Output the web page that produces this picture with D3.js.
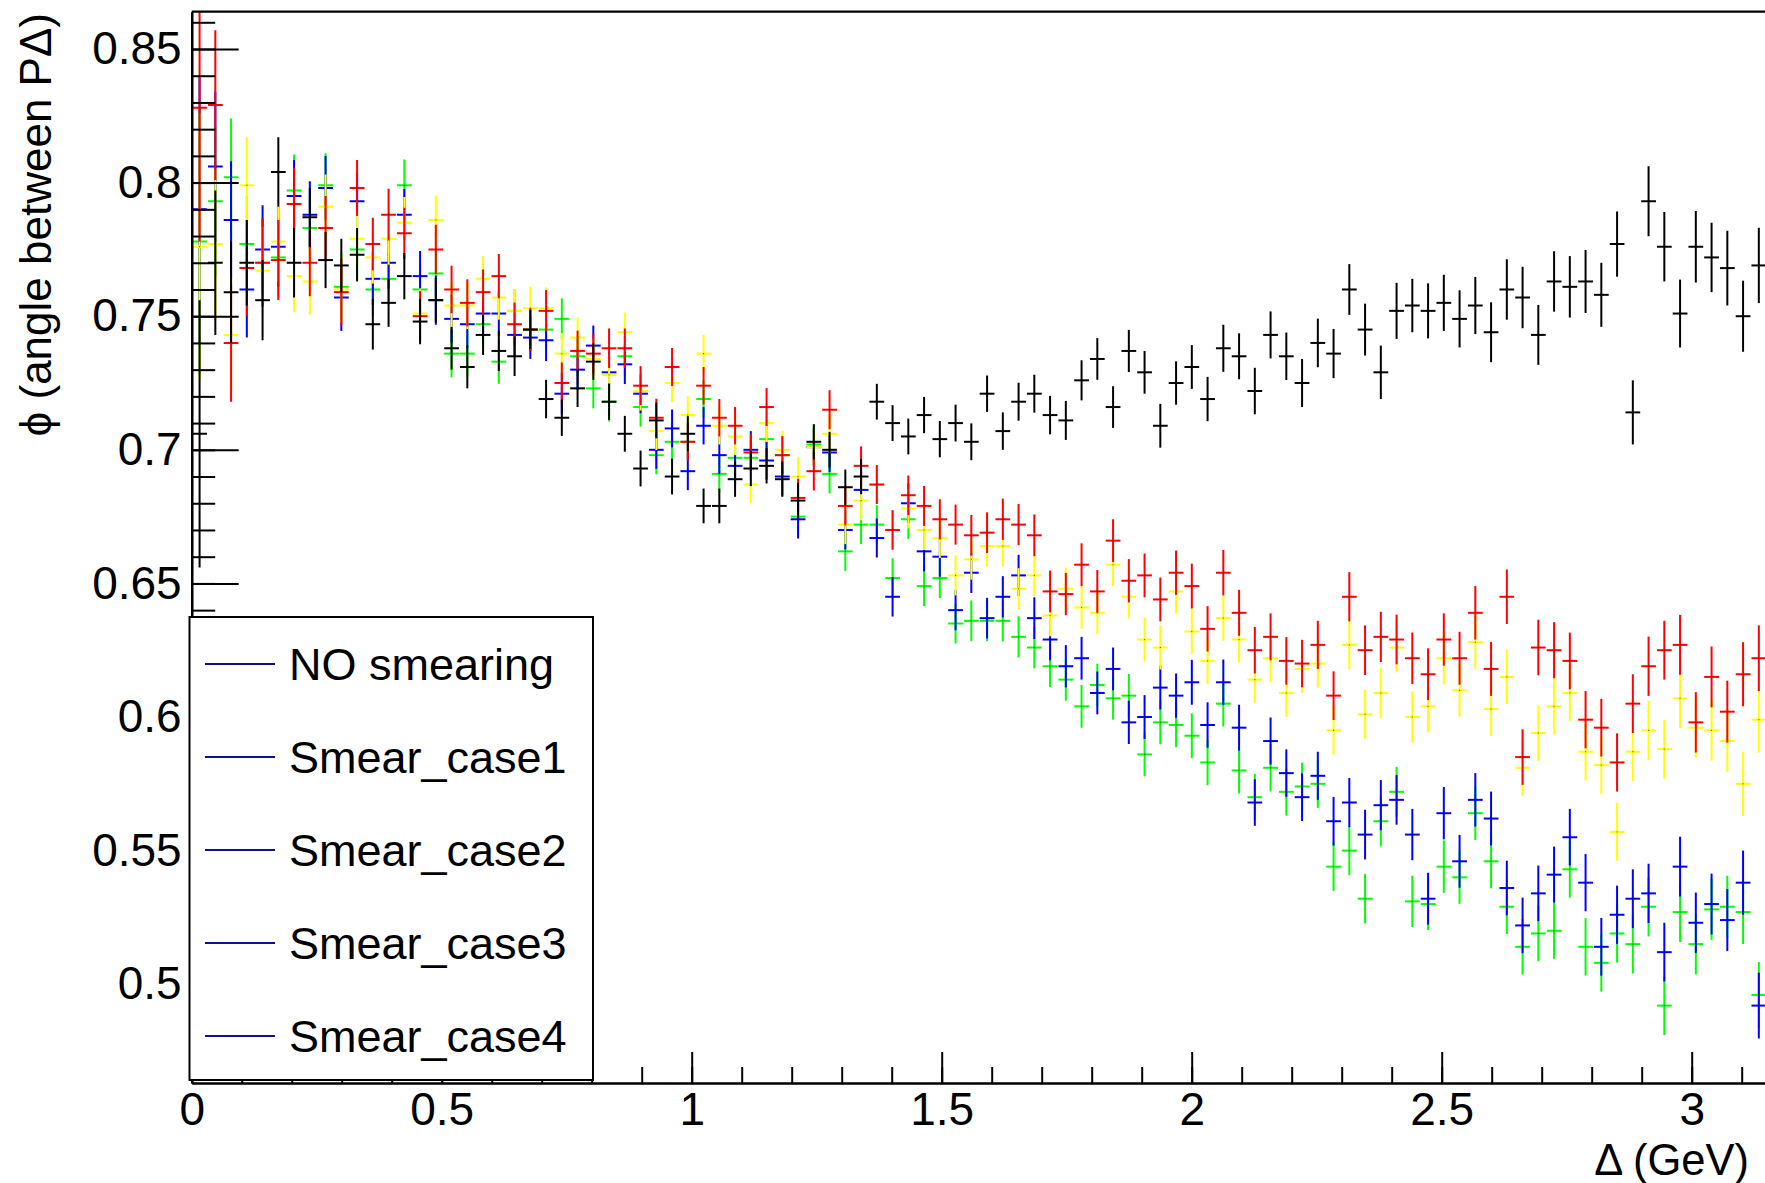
<!DOCTYPE html>
<html>
<head>
<meta charset="utf-8">
<script src="https://cdn.jsdelivr.net/npm/d3@7"></script>
<style>
  html, body { margin: 0; padding: 0; background: #fff; }
  svg { display: block; }
  text { font-family: "Liberation Sans", Arial, Helvetica, sans-serif; fill: #000; }
</style>
</head>
<body>
<svg id="chart" width="1765" height="1183"></svg>
<script>
// Histogram binning: 100 bins on [0, 3.15] GeV
const binMin = 0, binMax = 3.15, nBins = 100;

// Bin contents (mean phi per bin) for each sample
const blackVals = [0.706,0.770,0.759,0.770,0.756,0.804,0.770,0.787,0.771,0.769,
0.773,0.747,0.755,0.765,0.748,0.756,0.738,0.731,0.743,0.737,
0.735,0.745,0.719,0.712,0.723,0.733,0.718,0.706,0.693,0.711,
0.690,0.706,0.679,0.679,0.689,0.693,0.694,0.689,0.681,0.703,
0.700,0.686,0.690,0.718,0.710,0.705,0.713,0.704,0.710,0.703,
0.721,0.707,0.718,0.721,0.713,0.711,0.726,0.734,0.716,0.737,
0.729,0.709,0.725,0.731,0.719,0.738,0.735,0.722,0.743,0.735,
0.725,0.740,0.736,0.760,0.745,0.729,0.752,0.754,0.752,0.755,
0.749,0.754,0.744,0.760,0.757,0.743,0.763,0.761,0.763,0.758,
0.777,0.714,0.793,0.776,0.751,0.776,0.772,0.768,0.750,0.769];

const redVals = [0.828,0.829,0.740,0.768,0.770,0.771,0.792,0.770,0.783,0.759,
0.798,0.777,0.788,0.781,0.750,0.775,0.760,0.755,0.759,0.765,
0.747,0.745,0.752,0.725,0.737,0.736,0.738,0.738,0.724,0.712,
0.731,0.703,0.724,0.712,0.709,0.699,0.716,0.698,0.682,0.692,
0.715,0.679,0.694,0.687,0.670,0.683,0.679,0.674,0.672,0.668,
0.669,0.674,0.672,0.668,0.647,0.646,0.657,0.647,0.666,0.651,
0.653,0.644,0.654,0.649,0.633,0.654,0.639,0.625,0.630,0.621,
0.620,0.627,0.608,0.645,0.625,0.630,0.629,0.622,0.616,0.629,
0.622,0.639,0.618,0.645,0.585,0.626,0.625,0.621,0.599,0.596,
0.583,0.605,0.619,0.625,0.627,0.598,0.615,0.602,0.616,0.622];

const yellowVals = [0.776,0.777,0.743,0.799,0.767,0.778,0.765,0.763,0.791,0.760,
0.779,0.772,0.779,0.785,0.751,0.786,0.754,0.754,0.764,0.757,
0.752,0.753,0.753,0.736,0.742,0.734,0.728,0.744,0.722,0.707,
0.725,0.713,0.736,0.709,0.705,0.687,0.710,0.700,0.690,0.701,
0.706,0.672,0.681,0.687,0.670,0.678,0.670,0.667,0.653,0.659,
0.664,0.664,0.648,0.653,0.638,0.648,0.641,0.639,0.657,0.645,
0.629,0.626,0.647,0.632,0.621,0.637,0.629,0.614,0.622,0.609,
0.618,0.620,0.595,0.627,0.601,0.609,0.626,0.600,0.604,0.622,
0.610,0.628,0.603,0.615,0.581,0.594,0.604,0.609,0.587,0.582,
0.557,0.587,0.595,0.588,0.607,0.596,0.595,0.591,0.575,0.599];

const greenVals = [0.778,0.793,0.802,0.777,0.770,0.772,0.797,0.783,0.799,0.761,
0.775,0.760,0.764,0.799,0.760,0.766,0.736,0.736,0.747,0.733,
0.752,0.745,0.745,0.749,0.735,0.723,0.718,0.735,0.716,0.698,
0.703,0.703,0.719,0.691,0.697,0.697,0.704,0.698,0.675,0.702,
0.691,0.662,0.672,0.672,0.652,0.674,0.649,0.652,0.635,0.636,
0.636,0.636,0.630,0.626,0.619,0.614,0.604,0.612,0.607,0.608,
0.586,0.598,0.597,0.593,0.583,0.605,0.580,0.570,0.581,0.572,
0.574,0.575,0.544,0.550,0.532,0.561,0.572,0.531,0.530,0.544,
0.540,0.564,0.546,0.529,0.514,0.519,0.520,0.543,0.514,0.508,
0.519,0.515,0.529,0.492,0.527,0.515,0.528,0.529,0.527,0.496];

const blueVals = [0.790,0.806,0.786,0.760,0.775,0.776,0.795,0.788,0.798,0.757,
0.793,0.764,0.770,0.788,0.765,0.756,0.749,0.747,0.751,0.751,
0.743,0.742,0.741,0.721,0.730,0.739,0.729,0.732,0.721,0.700,
0.708,0.692,0.709,0.698,0.694,0.700,0.696,0.690,0.674,0.701,
0.699,0.670,0.685,0.667,0.645,0.680,0.662,0.660,0.640,0.654,
0.637,0.645,0.653,0.637,0.629,0.619,0.622,0.609,0.618,0.598,
0.600,0.611,0.608,0.613,0.597,0.613,0.596,0.568,0.591,0.579,
0.570,0.578,0.561,0.568,0.556,0.567,0.569,0.556,0.532,0.564,
0.546,0.569,0.562,0.536,0.522,0.534,0.541,0.555,0.538,0.514,
0.526,0.532,0.534,0.512,0.544,0.523,0.530,0.524,0.538,0.492];

// Statistical errors per bin
const blackErr = [0.050,0.027,0.019,0.016,0.015,0.013,0.013,0.011,0.0105,0.010,
0.010,0.0095,0.009,0.0087,0.0085,0.0083,0.008,0.008,0.0075,0.0075,
0.0074,0.0073,0.0072,0.0068,0.0070,0.0068,0.0068,0.0067,0.0067,0.0067,
0.0067,0.0066,0.0065,0.0065,0.0066,0.0066,0.0066,0.0066,0.0066,0.0066,
0.0067,0.0066,0.0066,0.0067,0.0067,0.0067,0.0068,0.0068,0.0069,0.0069,
0.0068,0.0070,0.0071,0.0071,0.0072,0.0073,0.0075,0.0078,0.0078,0.0079,
0.0080,0.0082,0.0081,0.0082,0.0083,0.0088,0.0086,0.0087,0.0088,0.0089,
0.0090,0.0091,0.0092,0.0095,0.0097,0.0100,0.0105,0.0100,0.0103,0.0105,
0.0107,0.0107,0.0112,0.0113,0.0115,0.0112,0.0113,0.0115,0.0118,0.0120,
0.0122,0.0120,0.0131,0.0130,0.0127,0.0134,0.0130,0.0140,0.0133,0.0141];

const smearErr = [0.050,0.028,0.022,0.018,0.0165,0.015,0.0135,0.0125,0.012,0.0125,
0.0105,0.0098,0.0097,0.0096,0.0094,0.0092,0.0089,0.0088,0.0085,0.0083,
0.0081,0.0080,0.0078,0.0077,0.0076,0.0075,0.0074,0.0074,0.0073,0.0071,
0.0071,0.0071,0.0070,0.0070,0.0070,0.0070,0.0071,0.0071,0.0072,0.0072,
0.0073,0.0073,0.0073,0.0073,0.0074,0.0074,0.0075,0.0075,0.0075,0.0076,
0.0076,0.0077,0.0077,0.0078,0.0078,0.0079,0.0080,0.0080,0.0080,0.0081,
0.0082,0.0082,0.0083,0.0084,0.0085,0.0085,0.0086,0.0087,0.0088,0.0089,
0.0089,0.0090,0.0091,0.0092,0.0093,0.0094,0.0093,0.0096,0.0097,0.0098,
0.0099,0.0100,0.0101,0.0102,0.0104,0.0104,0.0105,0.0106,0.0107,0.0108,
0.0109,0.0110,0.0111,0.0110,0.0112,0.0113,0.0114,0.0116,0.0120,0.0123];

// Axis ticks and labels
const xMajorTicks = [0, 0.5, 1, 1.5, 2, 2.5, 3];
const yMajorTicks = [0.5, 0.55, 0.6, 0.65, 0.7, 0.75, 0.8, 0.85];
const legendLabels = ["NO smearing", "Smear_case1", "Smear_case2", "Smear_case3", "Smear_case4"];

// Drawing order: later series sit on top
const series = [
  { vals: greenVals,  errs: smearErr, color: "#00ff00" },
  { vals: blueVals,   errs: smearErr, color: "#0000ff" },
  { vals: yellowVals, errs: smearErr, color: "#ffff00" },
  { vals: redVals,    errs: smearErr, color: "#ff0000" },
  { vals: blackVals,  errs: blackErr, color: "#000000" }
];

const svg = d3.select("#chart");
const W = 1765, H = 1183;
svg.append("rect").attr("width", W).attr("height", H).attr("fill", "#fff");

const x = d3.scaleLinear().domain([binMin, binMax]).range([191.7, 1766.7]);
const y = d3.scaleLinear().domain([0.46303, 0.86396]).range([1083, 11.7]);

const binW = (binMax - binMin) / nBins;
const binCenters = d3.range(nBins).map(i => binMin + (i + 0.5) * binW);

svg.append("clipPath").attr("id", "plotClip")
  .append("rect")
  .attr("x", x.range()[0]).attr("y", y.range()[1])
  .attr("width", x.range()[1] - x.range()[0])
  .attr("height", y.range()[0] - y.range()[1]);

const plot = svg.append("g").attr("clip-path", "url(#plotClip)");

series.forEach(s => {
  const pts = binCenters.map((c, i) => ({ c, v: s.vals[i], e: s.errs[i] }));
  const g = plot.append("g")
    .attr("stroke", s.color)
    .attr("stroke-width", 2)
    .attr("fill", "none");
  const pt = g.selectAll("g.pt").data(pts).join("g").attr("class", "pt");
  pt.append("line")
    .attr("x1", d => x(d.c)).attr("x2", d => x(d.c))
    .attr("y1", d => y(d.v - d.e)).attr("y2", d => y(d.v + d.e));
  pt.append("line")
    .attr("x1", d => x(d.c - binW / 2) + 0.5).attr("x2", d => x(d.c + binW / 2) - 0.5)
    .attr("y1", d => y(d.v)).attr("y2", d => y(d.v));
  // marker dot at the bin centre
  pt.append("rect")
    .attr("x", d => x(d.c) - 0.6).attr("y", d => y(d.v) - 0.6)
    .attr("width", 1.2).attr("height", 1.2)
    .attr("stroke", "none").attr("fill", "#000").attr("fill-opacity", 0.55);
});

// Frame top edge
svg.append("line")
  .attr("x1", x.range()[0]).attr("x2", x.range()[1])
  .attr("y1", y.range()[1]).attr("y2", y.range()[1])
  .attr("stroke", "#000").attr("stroke-width", 2.2);

const fmtY = v => d3.format(".2f")(v).replace(/0$/, "");
const fmtX = v => String(+v.toFixed(1));

// Y axis: minor ticks, then major ticks with labels (ticks point into the frame)
const yMinor = d3.range(47, 87).map(k => k / 100);
const yMinorAxis = d3.axisLeft(y).tickValues(yMinor).tickSize(-23.5).tickSizeOuter(0).tickFormat("");
const yMajorAxis = d3.axisLeft(y).tickValues(yMajorTicks).tickSize(-47).tickSizeOuter(0)
  .tickPadding(10).tickFormat(fmtY);

const gyMinor = svg.append("g").attr("transform", `translate(${x.range()[0]},0)`).call(yMinorAxis);
const gyMajor = svg.append("g").attr("transform", `translate(${x.range()[0]},0)`).call(yMajorAxis);

// X axis
const xMinor = d3.range(0, 32).map(k => k / 10);
const xMinorAxis = d3.axisBottom(x).tickValues(xMinor).tickSize(-16).tickSizeOuter(0).tickFormat("");
const xMajorAxis = d3.axisBottom(x).tickValues(xMajorTicks).tickSize(-31).tickSizeOuter(0)
  .tickPadding(9.5).tickFormat(fmtX);

const gxMinor = svg.append("g").attr("transform", `translate(0,${y.range()[0]})`).call(xMinorAxis);
const gxMajor = svg.append("g").attr("transform", `translate(0,${y.range()[0]})`).call(xMajorAxis);

[gyMinor, gyMajor, gxMinor, gxMajor].forEach(g => {
  g.selectAll("path.domain").attr("stroke", "#000").attr("stroke-width", 2.2);
  g.selectAll(".tick line").attr("stroke", "#000").attr("stroke-width", 2);
  g.selectAll(".tick text")
    .attr("font-family", "Liberation Sans, Arial, Helvetica, sans-serif")
    .attr("font-size", 46).attr("fill", "#000");
});

// Axis titles
svg.append("text")
  .attr("transform", `translate(50.5,13) rotate(-90)`)
  .attr("text-anchor", "end")
  .attr("font-size", 44)
  .text("\u03d5 (angle between P\u0394)");

svg.append("text")
  .attr("x", 1749).attr("y", 1175)
  .attr("text-anchor", "end")
  .attr("font-size", 43.5)
  .text("\u0394 (GeV)");

// Legend
const legend = svg.append("g");
legend.append("rect")
  .attr("x", 189.5).attr("y", 617).attr("width", 403.5).attr("height", 463)
  .attr("fill", "#fff").attr("stroke", "#000").attr("stroke-width", 2);

const entryY = d3.scalePoint().domain(legendLabels).range([664, 1036]);
const entries = legend.selectAll("g.entry").data(legendLabels).join("g").attr("class", "entry");
entries.append("line")
  .attr("x1", 205).attr("x2", 275)
  .attr("y1", d => entryY(d)).attr("y2", d => entryY(d))
  .attr("stroke", "#10108c").attr("stroke-width", 2);
entries.append("text")
  .attr("x", 289).attr("y", d => entryY(d) + 16)
  .attr("font-size", 45)
  .text(d => d);
</script>
</body>
</html>
